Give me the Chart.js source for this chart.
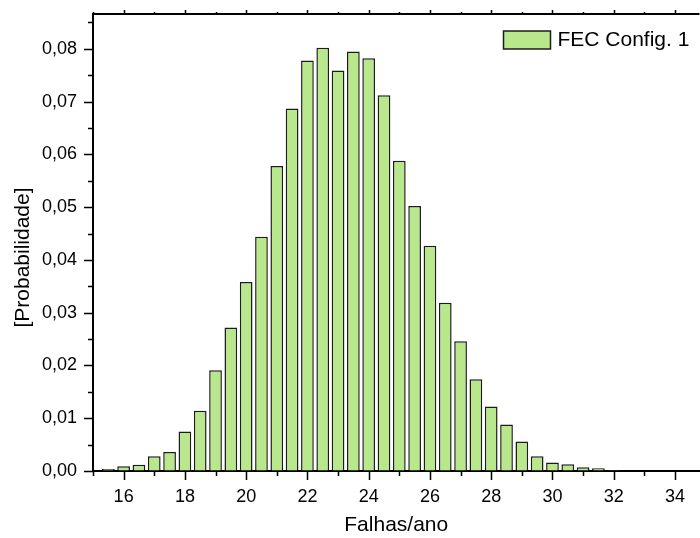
<!DOCTYPE html>
<html>
<head>
<meta charset="utf-8">
<script src="https://cdn.jsdelivr.net/npm/chart.js@4/dist/chart.umd.min.js"></script>
<style>
  html, body { margin: 0; padding: 0; background: #fff; overflow: hidden; }
</style>
</head>
<body>
<canvas id="hist" width="700" height="538"></canvas>
<script>
// falhas por ano (centro de cada barra)
const falhas = [15.5, 16, 16.5, 17, 17.5, 18, 18.5, 19, 19.5, 20, 20.5, 21, 21.5, 22, 22.5,
    23, 23.5, 24, 24.5, 25, 25.5, 26, 26.5, 27, 27.5, 28, 28.5, 29, 29.5, 30, 30.5,
    31, 31.5, 32, 32.5, 33, 33.5, 34, 34.5];
const probabilidade = [0.0004, 0.0009, 0.0012, 0.0028, 0.0036, 0.0075, 0.0114, 0.0191, 0.0272,
    0.0358, 0.0444, 0.0578, 0.0687, 0.0778, 0.0802, 0.0759, 0.0795, 0.0782, 0.0712, 0.0588,
    0.0502, 0.0427, 0.0319, 0.0246, 0.0174, 0.0122, 0.0088, 0.0056, 0.0028, 0.0016, 0.0013,
    0.0007, 0.0005, 0.0002, 0.0001, 0.0001, 0.0001, 0.0001, 0.0001];
const serieNome = 'FEC Config. 1';
const xTitulo = 'Falhas/ano';
const yTitulo = '[Probabilidade]';

const FONT = 'Liberation Sans, Arial, sans-serif';

// ticks menores, eixo de cima, titulo y e legenda dentro do grafico
const extras = {
    id: 'extras',
    afterDraw(chart) {
        const { ctx, chartArea: a, scales: { x, y } } = chart;
        ctx.save();
        ctx.strokeStyle = '#000';
        ctx.lineWidth = 1.5;
        ctx.beginPath();
        x.ticks.forEach(t => {
            [t.value, t.value - 1, t.value + 1].forEach((v, i) => {
                if (v < x.min || v > x.max) return;
                const px = Math.round(x.getPixelForValue(v)) + 0.5;
                const len = i === 0 ? 9 : 5;
                ctx.moveTo(px, a.bottom); ctx.lineTo(px, a.bottom + len);
                ctx.moveTo(px, a.top); ctx.lineTo(px, a.top - (i === 0 ? 4 : 2));
            });
        });
        y.ticks.forEach(t => {
            [t.value, t.value + 0.005].forEach((v, i) => {
                if (v > y.max) return;
                const py = Math.round(y.getPixelForValue(v)) + 0.5;
                const len = i === 0 ? 9 : 5;
                ctx.moveTo(a.left, py); ctx.lineTo(a.left - len, py);
            });
        });
        ctx.stroke();
        ctx.lineWidth = 2;
        ctx.beginPath();
        ctx.moveTo(a.left, a.top); ctx.lineTo(a.right, a.top);
        ctx.stroke();

        // titulo do eixo y
        ctx.save();
        ctx.translate(23, (a.top + a.bottom) / 2 + 15);
        ctx.rotate(-Math.PI / 2);
        ctx.fillStyle = '#000';
        ctx.font = '21px ' + FONT;
        ctx.textAlign = 'center';
        ctx.textBaseline = 'middle';
        ctx.fillText(yTitulo, 0, 0);
        ctx.restore();

        // legenda
        const ds = chart.data.datasets[0];
        const bx = a.right - 196, by = a.top + 17;
        ctx.fillStyle = ds.backgroundColor;
        ctx.fillRect(bx, by, 47, 18);
        ctx.lineWidth = 1.5;
        ctx.strokeStyle = ds.borderColor;
        ctx.strokeRect(bx, by, 47, 18);
        ctx.fillStyle = '#000';
        ctx.font = '21px ' + FONT;
        ctx.textBaseline = 'middle';
        ctx.fillText(ds.label, bx + 54, by + 9.5);
        ctx.restore();
    }
};

new Chart(document.getElementById('hist'), {
    type: 'bar',
    data: {
        datasets: [{
            label: serieNome,
            data: falhas.map((f, i) => ({ x: f, y: probabilidade[i] })),
            backgroundColor: '#b8e78c',
            borderColor: '#1c1c1c',
            borderWidth: 1.5,
            categoryPercentage: 1,
            barPercentage: 0.83,
        }],
    },
    options: {
        responsive: false,
        animation: false,
        layout: { padding: { top: 14, right: 0, left: 0, bottom: 0 } },
        plugins: {
            tooltip: { enabled: false },
            legend: { display: false },
        },
        scales: {
            x: {
                type: 'linear',
                offset: false,
                min: 15,
                max: 34.8,
                border: { display: true, color: '#000', width: 2 },
                grid: { display: true, offset: false, drawOnChartArea: false, drawTicks: false },
                ticks: {
                    stepSize: 2,
                    includeBounds: false,
                    autoSkip: false,
                    maxRotation: 0,
                    padding: 15,
                    color: '#000',
                    font: { family: FONT, size: 18 },
                },
                title: {
                    display: true,
                    text: xTitulo,
                    color: '#000',
                    padding: { top: 0, bottom: 0 },
                    font: { family: FONT, size: 21 },
                },
                afterFit: s => { s.height = 67; },
            },
            y: {
                min: 0,
                max: 0.0866,
                border: { display: true, color: '#000', width: 2 },
                grid: { display: true, drawOnChartArea: false, drawTicks: false },
                ticks: {
                    stepSize: 0.01,
                    includeBounds: false,
                    padding: 16,
                    color: '#000',
                    font: { family: FONT, size: 18 },
                    callback: v => v.toFixed(2).replace('.', ','),
                },
                afterFit: s => {
                    s.width = 93;
                    s.paddingTop = 0;
                    s.paddingBottom = 0;
                },
            },
        },
    },
    plugins: [extras],
});
</script>
</body>
</html>
